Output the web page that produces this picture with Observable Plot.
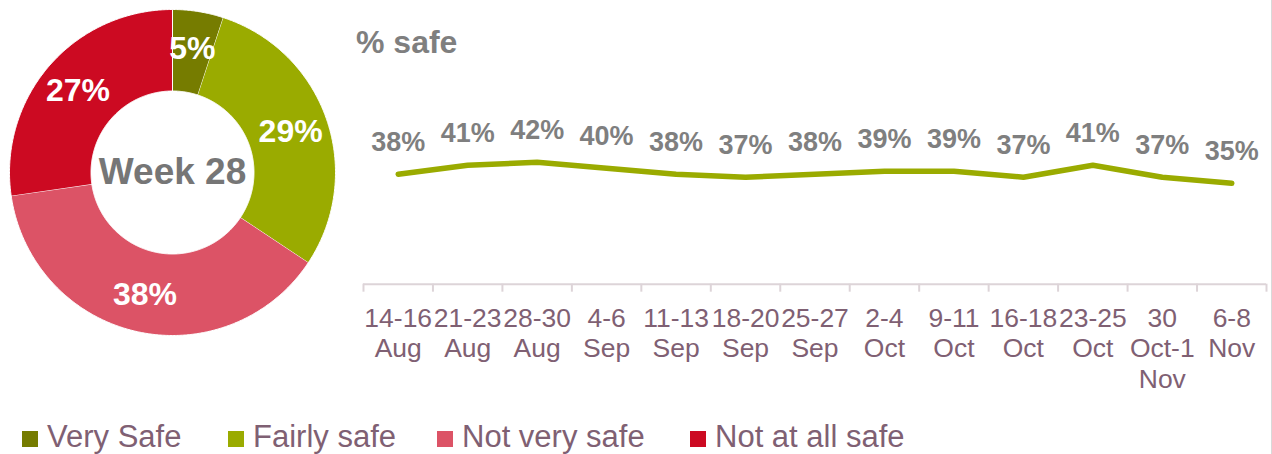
<!DOCTYPE html>
<html>
<head>
<meta charset="utf-8">
<script src="https://cdn.jsdelivr.net/npm/d3@7"></script>
<script src="https://cdn.jsdelivr.net/npm/@observablehq/plot@0.6"></script>
<style>
  body { margin: 0; background: #fff; font-family: "Liberation Sans", Arial, sans-serif; }
  #wrap { position: relative; width: 1271px; height: 454px; border-right: 1px solid #d9d9d9; overflow: hidden; }
  #donut { position: absolute; left: 0; top: 0; }
  #line { position: absolute; left: 344px; top: 0; }
  #title { position: absolute; left: 356px; top: 26px; font-size: 32px; line-height: 32px; font-weight: bold; color: #7f7f7f; white-space: nowrap; }
  .leg { position: absolute; top: 421px; font-size: 31px; line-height: 31px; color: #7f6073; white-space: nowrap; }
  .sw { display: inline-block; width: 16px; height: 16px; margin-right: 9px; }
</style>
</head>
<body>
<div id="wrap">
  <div id="donut"></div>
  <div id="line"></div>
  <div id="title"></div>
  <div id="legend"></div>
</div>
<script>
// ---- Data ----
const donutCats = ["Very Safe", "Fairly safe", "Not very safe", "Not at all safe"];
const donutVals = [5, 29, 38, 27];
const donutColors = ["#767c00", "#9aab00", "#dc5366", "#cc0a22"];
const centerLabel = "Week 28";

const weekLabels = ["14-16\nAug", "21-23\nAug", "28-30\nAug", "4-6\nSep", "11-13\nSep", "18-20\nSep", "25-27\nSep",
                    "2-4\nOct", "9-11\nOct", "16-18\nOct", "23-25\nOct", "30\nOct-1\nNov", "6-8\nNov"];
const pctSafe = [38, 41, 42, 40, 38, 37, 38, 39, 39, 37, 41, 37, 35];
const titleText = "% safe";

const FONT = '"Liberation Sans", Arial, sans-serif';

// ---- Donut ----
const half = 172 / 163, rIn = 0.5, rOut = 1, rLab = 125 / 163;
const total = d3.sum(donutVals);
const ring = [], labs = [];
let cum = 0;
donutCats.forEach((cat, i) => {
  const a0 = cum / total * 2 * Math.PI;
  cum += donutVals[i];
  const a1 = cum / total * 2 * Math.PI;
  const n = Math.max(2, Math.ceil((a1 - a0) / (Math.PI / 360)));
  for (let k = 0; k <= n; k++) { const a = a0 + (a1 - a0) * k / n; ring.push({cat, x: rOut * Math.sin(a), y: rOut * Math.cos(a)}); }
  for (let k = n; k >= 0; k--) { const a = a0 + (a1 - a0) * k / n; ring.push({cat, x: rIn * Math.sin(a), y: rIn * Math.cos(a)}); }
  const am = (a0 + a1) / 2;
  labs.push({cat, v: donutVals[i], x: rLab * Math.sin(am), y: rLab * Math.cos(am)});
});

const donut = Plot.plot({
  width: 344, height: 344, margin: 0,
  style: {fontFamily: FONT, background: "transparent"},
  x: {domain: [-half, half], axis: null},
  y: {domain: [-half, half], axis: null},
  color: {domain: donutCats, range: donutColors},
  marks: [
    Plot.line(ring, {x: "x", y: "y", z: "cat", fill: "cat", stroke: "white", strokeWidth: 1}),
    Plot.text(labs, {x: "x", y: "y", text: d => d.v + "%", fill: "white", fontSize: 32, fontWeight: "bold"}),
    Plot.text([centerLabel], {frameAnchor: "middle", text: d => d, fill: "#767676", fontSize: 37, fontWeight: "bold"})
  ]
});
document.getElementById("donut").appendChild(donut);

// ---- Line chart ----
const idx = d3.range(weekLabels.length);
const lineChart = Plot.plot({
  width: 928, height: 400,
  marginLeft: 19, marginRight: 5, marginTop: 44, marginBottom: 116,
  style: {fontFamily: FONT, background: "transparent"},
  x: {domain: [0, weekLabels.length]},
  y: {domain: [1.3, 81.3], axis: null},
  marks: [
    Plot.ruleY([1.3], {stroke: "#ddd4d8", strokeWidth: 2}),
    Plot.axisX(d3.range(weekLabels.length + 1), {tickSize: 8, tickFormat: () => "", stroke: "#ddd4d8", strokeWidth: 2, label: null}),
    Plot.axisX(idx.map(i => i + 0.5), {tickSize: 0, tickPadding: 21, tickFormat: v => weekLabels[Math.round(v - 0.5)],
      fontSize: 26.5, fill: "#7f6073", lineHeight: 1.15, label: null}),
    Plot.line(pctSafe, {x: (d, i) => i + 0.5, y: d => d, stroke: "#9aab00", strokeWidth: 5.5, strokeLinecap: "round"}),
    Plot.text(pctSafe, {x: (d, i) => i + 0.5, y: d => d, text: d => d + "%", dy: -32, fontSize: 27, fontWeight: "bold", fill: "#7f7f7f"})
  ]
});
document.getElementById("line").appendChild(lineChart);

document.getElementById("title").textContent = titleText;

// ---- Legend ----
const legX = [22, 228, 437, 690];
const legend = document.getElementById("legend");
donutCats.forEach((c, i) => {
  const d = document.createElement("div");
  d.className = "leg";
  d.style.left = legX[i] + "px";
  const s = document.createElement("span");
  s.className = "sw";
  s.style.background = donutColors[i];
  d.appendChild(s);
  d.appendChild(document.createTextNode(c));
  legend.appendChild(d);
});
</script>
</body>
</html>
